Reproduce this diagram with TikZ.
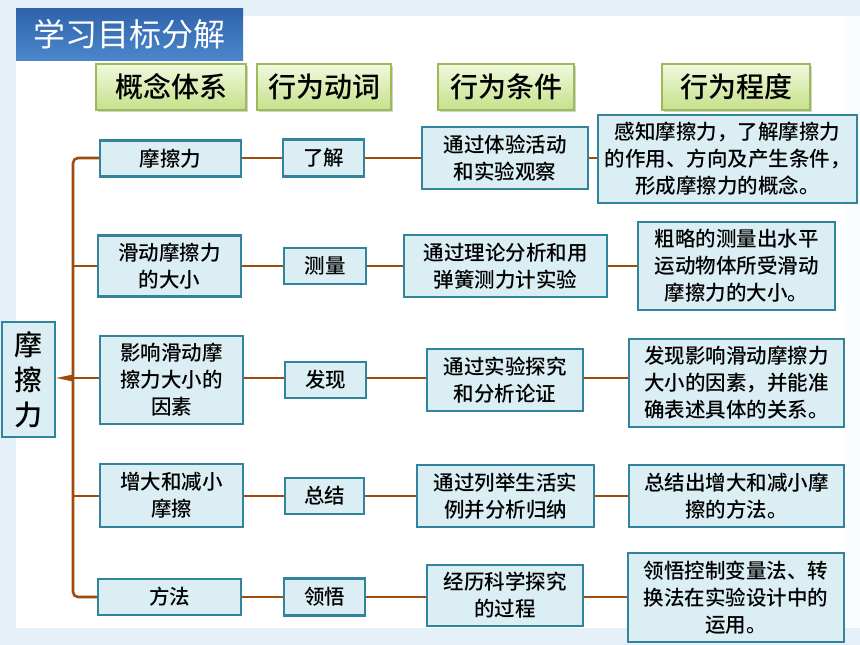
\documentclass[tikz,border=0pt]{standalone}
\usepackage{fontspec}
\newfontfamily\cjk{Noto Sans CJK SC Medium}
\newfontfamily\cjkt{Noto Sans CJK SC}
\usetikzlibrary{shadows}
\definecolor{bgblue}{HTML}{E6F0F8}
\definecolor{boxfill}{HTML}{DBEEF4}
\definecolor{boxline}{HTML}{31849B}
\definecolor{conncol}{HTML}{9E4B0E}
\definecolor{hdrline}{HTML}{9BBB59}
\definecolor{hdrtop}{HTML}{F1F9DE}
\definecolor{hdrbot}{HTML}{C6E08A}
\definecolor{ttltop}{HTML}{2E62AC}
\definecolor{ttlbot}{HTML}{4B87CA}
\begin{document}
\begin{tikzpicture}[x=1pt,y=-1pt,
  cbox/.style={draw=boxline,fill=boxfill,line width=2.4pt,inner sep=0pt,align=center,
    font=\cjk\fontsize{20.5}{27}\selectfont},
  hbox/.style={draw=hdrline,line width=2.4pt,top color=hdrtop,bottom color=hdrbot,inner sep=0pt,
    font=\cjk\fontsize{28}{30}\selectfont,
    drop shadow={shadow xshift=1.5pt,shadow yshift=-1.5pt,opacity=.35}},
  conn/.style={draw=conncol,line width=2.6pt}]
\useasboundingbox (0,0) rectangle (860,645);
% background
\fill[bgblue] (0,0) rectangle (860,645);
\fill[white] (16,16) rectangle (843,628);
\fill[white!80!bgblue] (843,16) rectangle (860,628);
% title
\node[top color=ttltop,bottom color=ttlbot,minimum width=227pt,minimum height=52pt,inner sep=0pt,
  text=white,font=\cjkt\fontsize{32}{34}\selectfont] (title) at (129.5,34) {学习目标分解};
% headers
\node[hbox,minimum width=150pt,minimum height=46pt] (h1) at (171,87) {概念体系};
\node[hbox,minimum width=134pt,minimum height=46pt] (h2) at (324,87) {行为动词};
\node[hbox,minimum width=136pt,minimum height=46pt] (h3) at (506,87) {行为条件};
\node[hbox,minimum width=148pt,minimum height=46pt] (h4) at (736,87) {行为程度};
% root
\node[cbox,minimum width=53pt,minimum height=115pt,font=\cjk\fontsize{28}{35}\selectfont] (L) at (28.5,379.5) {摩\\擦\\力};
% row 1
\node[cbox,minimum width=141pt,minimum height=36pt] (a1) at (170.5,158.5) {摩擦力};
\node[cbox,minimum width=81pt,minimum height=37pt] (b1) at (323.5,158) {了解};
\node[cbox,minimum width=166pt,minimum height=62pt] (c1) at (505,158) {通过体验活动\\和实验观察};
\node[cbox,minimum width=259pt,minimum height=88pt] (d1) at (727.5,159) {感知摩擦力，了解摩擦力\\的作用、方向及产生条件，\\形成摩擦力的概念。};
% row 2
\node[cbox,minimum width=143pt,minimum height=61pt] (a2) at (169.5,266) {滑动摩擦力\\的大小};
\node[cbox,minimum width=82pt,minimum height=36pt] (b2) at (325,266) {测量};
\node[cbox,minimum width=203pt,minimum height=62pt] (c2) at (505.5,266) {通过理论分析和用\\弹簧测力计实验};
\node[cbox,minimum width=197pt,minimum height=88pt] (d2) at (736.5,266) {粗略的测量出水平\\运动物体所受滑动\\摩擦力的大小。};
% row 3
\node[cbox,minimum width=143pt,minimum height=88pt] (a3) at (171.5,380) {影响滑动摩\\擦力大小的\\因素};
\node[cbox,minimum width=81pt,minimum height=36pt] (b3) at (325.5,380) {发现};
\node[cbox,minimum width=156pt,minimum height=62pt] (c3) at (505,380) {通过实验探究\\和分析论证};
\node[cbox,minimum width=215pt,minimum height=88pt] (d3) at (736.5,383) {发现影响滑动摩擦力\\大小的因素，并能准\\确表述具体的关系。};
% row 4
\node[cbox,minimum width=143pt,minimum height=63pt] (a4) at (171.5,495.5) {增大和减小\\摩擦};
\node[cbox,minimum width=79pt,minimum height=36pt] (b4) at (324.5,496) {总结};
\node[cbox,minimum width=177pt,minimum height=62pt] (c4) at (505.5,496) {通过列举生活实\\例并分析归纳};
\node[cbox,minimum width=215pt,minimum height=62pt] (d4) at (736.5,496) {总结出增大和减小摩\\擦的方法。};
% row 5
\node[cbox,minimum width=143pt,minimum height=36pt] (a5) at (169.5,597) {方法};
\node[cbox,minimum width=81pt,minimum height=37pt] (b5) at (324.5,597) {领悟};
\node[cbox,minimum width=156pt,minimum height=61pt] (c5) at (505,595.5) {经历科学探究\\的过程};
\node[cbox,minimum width=216pt,minimum height=89pt] (d5) at (736,597.5) {领悟控制变量法、转\\换法在实验设计中的\\运用。};
% row levels
\coordinate (r1) at (0,158);
\coordinate (r2) at (0,266);
\coordinate (r3) at (0,378);
\coordinate (r4) at (0,496);
\coordinate (r5) at (0,597);
% brace
\coordinate (bx) at (73,378);
\draw[conn,rounded corners=5pt] (a1.west |- r1) -- (bx |- r1) -- (bx |- r5) -- (a5.west |- r5);
\draw[conn] (a2.west |- r2) -- (bx |- r2);
\draw[conn] (a3.west |- r3) -- (bx |- r3);
\draw[conn] (a4.west |- r4) -- (bx |- r4);
\fill[conncol] (L.east |- r3) -- ([yshift=-3.5pt]bx) -- ([yshift=3.5pt]bx) -- cycle;
% row connectors
\foreach \r in {1,...,5}{
  \draw[conn] (a\r.east |- r\r) -- (b\r.west |- r\r);
  \draw[conn] (b\r.east |- r\r) -- (c\r.west |- r\r);
  \draw[conn] (c\r.east |- r\r) -- (d\r.west |- r\r);
}
\end{tikzpicture}
\end{document}
